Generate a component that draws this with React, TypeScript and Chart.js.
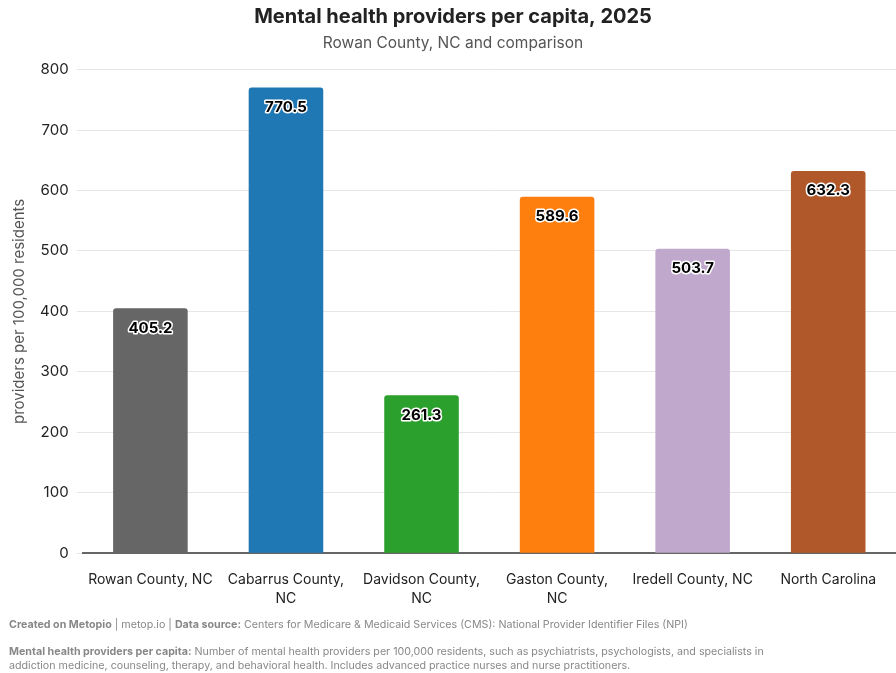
import React, { useEffect, useRef } from "react";
import { Chart, registerables } from "chart.js";

Chart.register(...registerables);

const categories: string[][] = [
  ["Rowan County, NC"],
  ["Cabarrus County,", "NC"],
  ["Davidson County,", "NC"],
  ["Gaston County,", "NC"],
  ["Iredell County, NC"],
  ["North Carolina"],
];
const values: number[] = [405.2, 770.5, 261.3, 589.6, 503.7, 632.3];
const barColors: string[] = ["#666666", "#1f77b4", "#2ca02c", "#ff7f0e", "#c0a8cc", "#b0582a"];
const yTicks: number[] = [0, 100, 200, 300, 400, 500, 600, 700, 800];

const FONT = "Inter, 'Noto Sans', sans-serif";

const labelPlugin = {
  id: "barLabels",
  afterDatasetsDraw(chart: any) {
    const ctx = chart.ctx;
    const meta = chart.getDatasetMeta(0);
    ctx.save();
    ctx.font = `bold 15px ${FONT}`;
    ctx.textAlign = "center";
    ctx.textBaseline = "middle";
    ctx.lineJoin = "round";
    meta.data.forEach((bar: any, i: number) => {
      const txt = values[i].toFixed(1);
      const y = bar.y + 20;
      ctx.lineWidth = 3;
      ctx.strokeStyle = "#ffffff";
      ctx.strokeText(txt, bar.x, y);
      ctx.fillStyle = "#000000";
      ctx.fillText(txt, bar.x, y);
    });
    ctx.restore();
  },
};

export default function App() {
  const ref = useRef<HTMLCanvasElement>(null);
  useEffect(() => {
    if (!ref.current) return;
    const chart = new Chart(ref.current, {
      type: "bar",
      data: {
        labels: categories,
        datasets: [
          {
            data: values,
            backgroundColor: barColors,
            borderRadius: 3,
            borderSkipped: "bottom",
            barPercentage: 0.55,
            categoryPercentage: 1,
          },
        ],
      },
      options: {
        animation: false,
        responsive: false,
        maintainAspectRatio: false,
        layout: { padding: { left: 10, right: 0, top: 0, bottom: 0 } },
        plugins: {
          legend: { display: false },
          tooltip: { enabled: false },
          title: {
            display: true,
            text: "Mental health providers per capita, 2025",
            color: "#222222",
            font: { family: FONT, size: 20, weight: "bold" },
            padding: { top: 5, bottom: 5 },
          },
          subtitle: {
            display: true,
            text: "Rowan County, NC and comparison",
            color: "#555555",
            font: { family: FONT, size: 15.5, weight: "normal" },
            padding: { top: 0, bottom: 17 },
          },
        },
        scales: {
          x: {
            grid: { display: false, drawTicks: false },
            border: { color: "#666666", width: 2 },
            ticks: {
              color: "#222222",
              font: { family: FONT, size: 14, lineHeight: 1.35 },
              maxRotation: 0,
              autoSkip: false,
              padding: 17,
            },
          },
          y: {
            min: 0,
            max: 800,
            afterBuildTicks: (axis: any) => {
              axis.ticks = yTicks.map((v) => ({ value: v }));
            },
            grid: { color: "#e6e6e6", tickLength: 6, tickColor: "#e6e6e6" },
            border: { display: false },
            ticks: {
              color: "#222222",
              font: { family: FONT, size: 15 },
              padding: 8,
            },
            title: {
              display: true,
              text: "providers per 100,000 residents",
              color: "#555555",
              font: { family: FONT, size: 15 },
              padding: { top: 0, bottom: 4 },
            },
          },
        },
      },
      plugins: [labelPlugin],
    });
    return () => chart.destroy();
  }, []);

  const foot: React.CSSProperties = {
    fontFamily: FONT,
    fontSize: 10.7,
    color: "#888888",
    lineHeight: "14px",
    margin: 0,
    whiteSpace: "nowrap",
  };

  return (
    <div style={{ position: "absolute", left: 0, top: 0, width: 896, height: 673, background: "#fff" }}>
      <canvas ref={ref} width={896} height={625} style={{ display: "block" }} />
      <div style={{ position: "absolute", left: 9, top: 618, width: 880 }}>
        <p style={foot}>
          <b>Created on Metopio</b> | metop.io | <b>Data source:</b> Centers for Medicare &amp; Medicaid Services (CMS): National Provider Identifier Files (NPI)
        </p>
        <p style={{ ...foot, marginTop: 13 }}>
          <b>Mental health providers per capita:</b> Number of mental health providers per 100,000 residents, such as psychiatrists, psychologists, and specialists in
          <br />
          addiction medicine, counseling, therapy, and behavioral health. Includes advanced practice nurses and nurse practitioners.
        </p>
      </div>
    </div>
  );
}
